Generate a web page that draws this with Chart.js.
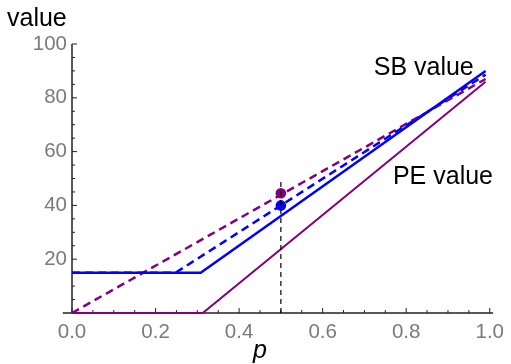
<!DOCTYPE html>
<html>
<head>
<meta charset="utf-8">
<script src="https://cdn.jsdelivr.net/npm/chart.js@4"></script>
<style>
  html, body { margin: 0; padding: 0; background: #fff; }
  #wrap { width: 511px; height: 364px; }
</style>
</head>
<body>
<div id="wrap"><canvas id="chart"></canvas></div>
<script>
// data
const sbSolidX = [0, 0.308, 0.99];
const sbSolidY = [15, 15, 90];
const sbDashX = [0, 0.248, 0.99];
const sbDashY = [15, 15, 88.6];
const peDashX = [0, 0.99];
const peDashY = [0, 87];
const peSolidX = [0, 0.313, 0.99];
const peSolidY = [0, 0, 86];
const markerX = [0.5, 0.5];
const markerY = [0, 50];
const pointPeY = 44.5;
const pointSbY = 40;
const pointX = 0.5;

const BLUE = "#0000ff";
const PURPLE = "#800080";
const FONT = "'Liberation Sans', Arial, sans-serif";

const toPts = (xs, ys) => xs.map((x, i) => ({ x: x, y: ys[i] }));

// axes with inward ticks + text labels, mathematica style
const axesPlugin = {
    id: "axesPlugin",
    beforeDatasetsDraw(chart) {
        const ctx = chart.ctx;
        const xs = chart.scales.x;
        const ys = chart.scales.y;
        const y0 = ys.getPixelForValue(0);
        const x0 = xs.getPixelForValue(0);
        ctx.save();
        ctx.strokeStyle = "#222";
        ctx.lineWidth = 1.5;
        ctx.beginPath();
        ctx.moveTo(xs.getPixelForValue(-0.022), y0);
        ctx.lineTo(xs.getPixelForValue(1.008), y0);
        ctx.moveTo(x0, ys.getPixelForValue(100));
        ctx.lineTo(x0, y0);
        ctx.stroke();
        ctx.lineWidth = 1;
        ctx.beginPath();
        for (let i = 0; i <= 20; i++) {
            const px = xs.getPixelForValue(i * 0.05);
            const len = i % 4 === 0 ? 5 : 3;
            ctx.moveTo(px, y0);
            ctx.lineTo(px, y0 - len);
        }
        for (let i = 1; i <= 20; i++) {
            const py = ys.getPixelForValue(i * 5);
            const len = i % 4 === 0 ? 5 : 3;
            ctx.moveTo(x0, py);
            ctx.lineTo(x0 + len, py);
        }
        ctx.stroke();
        ctx.restore();
    },
    afterDraw(chart) {
        const ctx = chart.ctx;
        const xs = chart.scales.x;
        const ys = chart.scales.y;
        ctx.save();
        ctx.fillStyle = "#000";
        ctx.textBaseline = "middle";
        ctx.textAlign = "center";
        ctx.font = "25px " + FONT;
        ctx.fillText("SB value", xs.getPixelForValue(0.842), ys.getPixelForValue(91));
        ctx.fillText("PE value", xs.getPixelForValue(0.888), ys.getPixelForValue(50.5));
        ctx.textAlign = "left";
        ctx.fillText("value", 7, 19);
        ctx.font = "italic 25px " + FONT;
        ctx.textAlign = "center";
        ctx.fillText("p", xs.getPixelForValue(0.45), 351);
        ctx.restore();
    }
};

const ctx = document.getElementById("chart").getContext("2d");
const myChart = new Chart(ctx, {
    type: "line",
    data: {
        datasets: [
            {
                data: toPts(markerX, markerY),
                borderColor: "#000",
                borderWidth: 1.2,
                borderDash: [5, 4],
                pointRadius: 0
            },
            {
                data: [{ x: pointX, y: pointPeY }],
                showLine: false,
                pointRadius: 5.3,
                pointBackgroundColor: PURPLE,
                pointBorderWidth: 0
            },
            {
                data: [{ x: pointX, y: pointSbY }],
                showLine: false,
                pointRadius: 5.3,
                pointBackgroundColor: BLUE,
                pointBorderWidth: 0
            },
            {
                data: toPts(sbSolidX, sbSolidY),
                borderColor: BLUE,
                borderWidth: 2.5,
                pointRadius: 0
            },
            {
                data: toPts(sbDashX, sbDashY),
                borderColor: BLUE,
                borderWidth: 2.5,
                borderDash: [8, 5],
                pointRadius: 0
            },
            {
                data: toPts(peDashX, peDashY),
                borderColor: PURPLE,
                borderWidth: 2.5,
                borderDash: [8, 5],
                pointRadius: 0
            },
            {
                data: toPts(peSolidX, peSolidY),
                borderColor: PURPLE,
                borderWidth: 2,
                pointRadius: 0
            }
        ]
    },
    options: {
        responsive: true,
        maintainAspectRatio: false,
        animation: false,
        clip: false,
        layout: { padding: { left: 0, top: 44, right: 17, bottom: 0 } },
        plugins: {
            legend: { display: false },
            tooltip: { enabled: false }
        },
        elements: { line: { tension: 0 } },
        scales: {
            x: {
                type: "linear",
                min: 0,
                max: 1,
                grid: { display: false, drawTicks: false },
                border: { display: false },
                ticks: {
                    stepSize: 0.2,
                    color: "#7a7a7a",
                    font: { size: 20.5, family: FONT },
                    padding: 7,
                    maxRotation: 0,
                    callback: v => v.toFixed(1)
                },
                afterFit: scale => { scale.height = 51; }
            },
            y: {
                type: "linear",
                min: 0,
                max: 100,
                grid: { display: false, drawTicks: false },
                border: { display: false },
                ticks: {
                    stepSize: 20,
                    color: "#7a7a7a",
                    font: { size: 20.5, family: FONT },
                    padding: 5,
                    callback: v => v === 0 ? "" : v
                },
                afterFit: scale => { scale.width = 72; }
            }
        }
    },
    plugins: [axesPlugin]
});
</script>
</body>
</html>
